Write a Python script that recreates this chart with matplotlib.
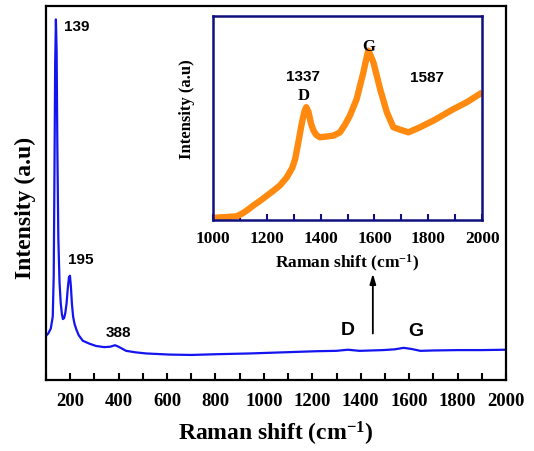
import numpy as np
import matplotlib
matplotlib.use("Agg")
import matplotlib.pyplot as plt
from matplotlib.ticker import MultipleLocator

# main spectrum (blue), intensity in arbitrary 0-100 units
shift_main = [100, 110, 120, 128, 132, 135, 138, 141, 144, 147, 151, 156, 161, 166, 170,
              175, 180, 185, 190, 195, 199, 203, 207, 212, 218, 225, 235, 252, 280, 307,
              340, 365, 385, 400, 431, 470, 514, 610, 700, 803, 941, 1079, 1217, 1299,
              1347, 1395, 1492, 1540, 1577, 1610, 1646, 1700, 1800, 1900, 2000]
inten_main = [11.8, 12.5, 13.8, 17.0, 28.0, 55.0, 85.0, 96.5, 88.0, 62.0, 38.0, 26.0, 20.5, 17.5, 16.3,
              16.6, 18.0, 20.5, 24.5, 27.5, 27.9, 25.0, 20.5, 17.0, 15.0, 13.6, 12.0, 10.5, 9.7, 9.1,
              8.8, 8.9, 9.3, 8.9, 7.8, 7.4, 7.1, 6.8, 6.7, 6.9, 7.1, 7.4, 7.7, 7.8,
              8.1, 7.8, 8.0, 8.2, 8.6, 8.3, 7.8, 7.9, 8.0, 8.0, 8.1]

# inset spectrum (orange), 1000-2000 cm-1
shift_inset = [1000, 1030, 1060, 1089, 1110, 1126, 1150, 1176, 1200, 1225, 1250, 1275, 1295,
               1306, 1318, 1330, 1340, 1347, 1355, 1365, 1374, 1385, 1398, 1420, 1448, 1472,
               1490, 1509, 1534, 1559, 1570, 1577, 1584, 1596, 1621, 1646, 1670, 1695, 1726,
               1769, 1818, 1850, 1893, 1942, 1991, 2000]
inten_inset = [1.0, 1.3, 1.5, 1.8, 3.2, 4.6, 7.0, 9.4, 11.8, 14.3, 17.0, 20.9, 25.5,
               29.9, 38.2, 47.0, 53.0, 55.2, 53.0, 47.0, 43.7, 41.5, 40.5, 40.8, 41.3, 42.9,
               46.5, 51.1, 59.2, 72.3, 79.0, 82.9, 81.0, 77.2, 64.1, 52.7, 45.4, 44.2, 42.9,
               45.4, 48.6, 51.0, 54.3, 57.6, 61.7, 62.5]

main_labels = [("139", 227, 94.8), ("195", 245, 32.4), ("388", 401, 12.8)]
band_labels = [("D", 1347, 13.6), ("G", 1626, 13.2)]
inset_numbers = [("1337", 1336, 70.3), ("1587", 1796, 69.8)]
inset_bands = [("D", 1339, 61.3), ("G", 1580, 85.3)]

serif = "Liberation Serif"
sans = "Liberation Sans"
navy = "#10107f"

plt.rcParams["mathtext.fontset"] = "custom"
plt.rcParams["mathtext.rm"] = "Liberation Serif:bold"
plt.rcParams["mathtext.bf"] = "Liberation Serif:bold"
plt.rcParams["mathtext.default"] = "rm"

fig = plt.figure(figsize=(5.34, 4.52), dpi=100)
ax = fig.add_axes([0.0861, 0.1571, 0.8615, 0.8267])
ax.plot(shift_main, inten_main, color="#1414f0", lw=1.6)
ax.set_xlim(100, 2000)
ax.set_ylim(0, 100)
ax.set_yticks([])
ax.xaxis.set_major_locator(MultipleLocator(200))
ax.xaxis.set_minor_locator(MultipleLocator(100))
ax.set_xticks([200, 400, 600, 800, 1000, 1200, 1400, 1600, 1800, 2000])
ax.tick_params(axis="x", which="both", direction="in", length=5, width=1.5, pad=9)
for lab in ax.get_xticklabels():
    lab.set_fontfamily(serif)
    lab.set_fontweight("bold")
    lab.set_fontsize(13.5)
for s in ax.spines.values():
    s.set_linewidth(1.6)
ax.set_xlabel("Raman shift (cm$^{-1}$)", fontfamily=serif, fontweight="bold", fontsize=17)
ax.set_ylabel("Intensity (a.u)", fontfamily=serif, fontweight="bold", fontsize=17)
ax.xaxis.set_label_coords(0.5, -0.105)
ax.yaxis.set_label_coords(-0.022, 0.463)

for txt, x, y in main_labels:
    ax.text(x, y, txt, fontfamily=sans, fontweight="bold", fontsize=11, ha="center", va="center")
for txt, x, y in band_labels:
    ax.text(x, y, txt, fontfamily=sans, fontweight="bold", fontsize=14, ha="center", va="center")

ax.annotate("", xy=(1450, 29.2), xytext=(1450, 11.7),
            arrowprops=dict(arrowstyle="-|>,head_length=0.6,head_width=0.18", color="black", lw=1.3))

# inset
ins = fig.add_axes([0.3983, 0.5111, 0.5049, 0.4520])
ins.plot(shift_inset, inten_inset, color="#ff8a0f", lw=4.6, solid_capstyle="butt")
ins.set_xlim(1000, 2000)
ins.set_ylim(0, 100)
ins.set_yticks([])
ins.xaxis.set_major_locator(MultipleLocator(200))
ins.xaxis.set_minor_locator(MultipleLocator(100))
ins.tick_params(axis="x", which="both", direction="in", length=4, width=1.5, color=navy, pad=7)
for lab in ins.get_xticklabels():
    lab.set_fontfamily(serif)
    lab.set_fontweight("bold")
    lab.set_fontsize(12.5)
for s in ins.spines.values():
    s.set_linewidth(1.8)
    s.set_color(navy)
ins.set_xlabel("Raman shift (cm$^{-1}$)", fontfamily=serif, fontweight="bold", fontsize=12.5)
ins.set_ylabel("Intensity (a.u)", fontfamily=serif, fontweight="bold", fontsize=12)
ins.xaxis.set_label_coords(0.5, -0.155)
ins.yaxis.set_label_coords(-0.066, 0.548)

for txt, x, y in inset_numbers:
    ins.text(x, y, txt, fontfamily=sans, fontweight="bold", fontsize=11, ha="center", va="center")
for txt, x, y in inset_bands:
    ins.text(x, y, txt, fontfamily=serif, fontweight="bold", fontsize=12, ha="center", va="center")

fig.savefig("out.png", dpi=100)
